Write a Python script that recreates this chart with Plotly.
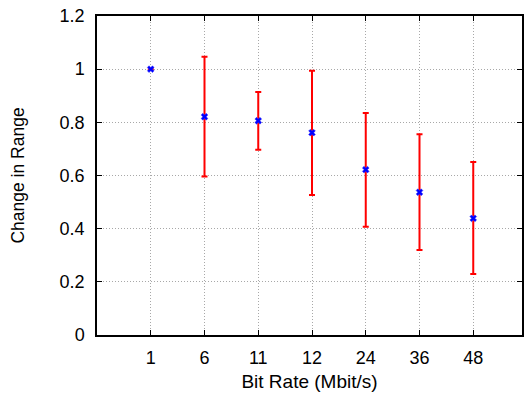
import plotly.graph_objects as go

bit_rates = ["1", "6", "11", "12", "24", "36", "48"]
change = [1.0, 0.821, 0.806, 0.761, 0.622, 0.537, 0.439]
upper = [1.0, 1.047, 0.914, 0.994, 0.835, 0.755, 0.651]
lower = [1.0, 0.596, 0.697, 0.527, 0.407, 0.320, 0.229]
y_ticks = [0, 0.2, 0.4, 0.6, 0.8, 1.0, 1.2]
y_tick_text = ["0", "0.2", "0.4", "0.6", "0.8", "1", "1.2"]

xpos = list(range(1, len(bit_rates) + 1))
err_plus = [u - c for u, c in zip(upper, change)]
err_minus = [c - l for c, l in zip(change, lower)]

fig = go.Figure()
fig.add_trace(go.Scatter(
    x=xpos, y=change, mode="markers",
    marker=dict(symbol="x", size=6, color="#0000ff", line=dict(width=0.5, color="#3030ff")),
    error_y=dict(type="data", symmetric=False, array=err_plus, arrayminus=err_minus,
                 color="#ff0000", thickness=2, width=3),
    showlegend=False,
))

font = "Liberation Sans, Arial, Helvetica, sans-serif"
fig.update_layout(
    width=524, height=394,
    margin=dict(l=97, r=0, t=16, b=59),
    plot_bgcolor="white", paper_bgcolor="white",
    font=dict(family=font, size=16, color="black"),
    xaxis=dict(
        range=[0, 7.907], tickvals=xpos, ticktext=bit_rates,
        showgrid=True, gridcolor="#a8a8a8", griddash="1px,2px", gridwidth=1,
        showline=True, linecolor="black", linewidth=1.5, mirror="ticks",
        ticks="inside", ticklen=5, tickcolor="black",
        zeroline=False, ticklabelstandoff=6,
        title=dict(text="Bit Rate (Mbit/s)", standoff=7, font=dict(size=19)),
        tickfont=dict(size=18),
    ),
    yaxis=dict(
        range=[0, 1.2], tickvals=y_ticks, ticktext=y_tick_text,
        showgrid=True, gridcolor="#a8a8a8", griddash="1px,2px", gridwidth=1,
        showline=True, linecolor="black", linewidth=1.5, mirror="ticks",
        ticks="inside", ticklen=5, tickcolor="black",
        zeroline=False, ticklabelstandoff=7,
        title=dict(text="Change in Range", standoff=30, font=dict(size=17.5)),
        tickfont=dict(size=18),
    ),
)

fig.write_html("out.html")
